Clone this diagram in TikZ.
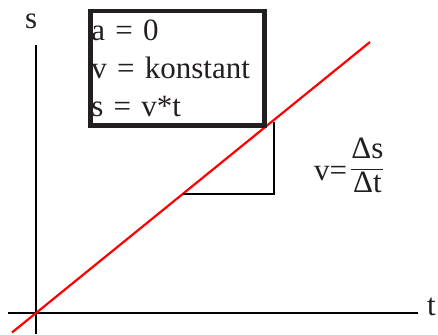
\documentclass[tikz,border=0pt]{standalone}
\usepackage{fontspec}
\setmainfont{Liberation Serif}
\usepackage{tikz}
\definecolor{lineRed}{HTML}{ff0000}
\definecolor{inkDark}{HTML}{231f20}

\begin{document}
\begin{tikzpicture}[
  x=1pt, y=-1pt,
  font=\fontsize{31}{38}\selectfont,
  axis/.style={draw=black, line width=2.7pt},
  graph/.style={draw=lineRed, line width=2.2pt},
  leg/.style={draw=black, line width=2.7pt},
  lbl/.style={anchor=base west, inner sep=0pt, text=inkDark},
  eqbox/.style={draw=inkDark, line width=4.5pt, anchor=north west, align=left,
                minimum width=174pt, minimum height=114pt, text width=172pt,
                inner xsep=1pt, inner ysep=0pt, text=inkDark}
]
\useasboundingbox (0,0) rectangle (438,334);

% ============ AXES ============
\coordinate (O) at (36,313);
\coordinate (yBot) at (36,334);
\coordinate (yTop) at (36,45);
\coordinate (xLeft) at (8,313);
\coordinate (xRight) at (418,313);
\draw[axis] (yBot) -- (yTop);
\draw[axis] (xLeft) -- (xRight);
\node[lbl] (slbl) at (25,29) {s};
\node[lbl] (tlbl) at (427,315) {t};

% ============ GRAPH s(t) ============
\coordinate (gStart) at (12,332.5);
\coordinate (gEnd) at (370,42);
\draw[graph] (gStart) -- (gEnd);

% ============ INFO BOX ============
\node[eqbox] (info) at (88,9) {a = 0\\v = konstant\\s = v*t};

% ============ SLOPE TRIANGLE ============
\coordinate (triA) at (183,194);
\coordinate (triB) at (274,194);
\coordinate (triC) at (274,122);
\draw[leg] (triA) -- (triB) -- (triC);
\node[lbl] (slope) at (314,180)
  {v=\hspace{3pt}\raisebox{5pt}{$\displaystyle\frac{\hbox{Δs}}{\hbox{Δt}}$}};

\end{tikzpicture}
\end{document}
